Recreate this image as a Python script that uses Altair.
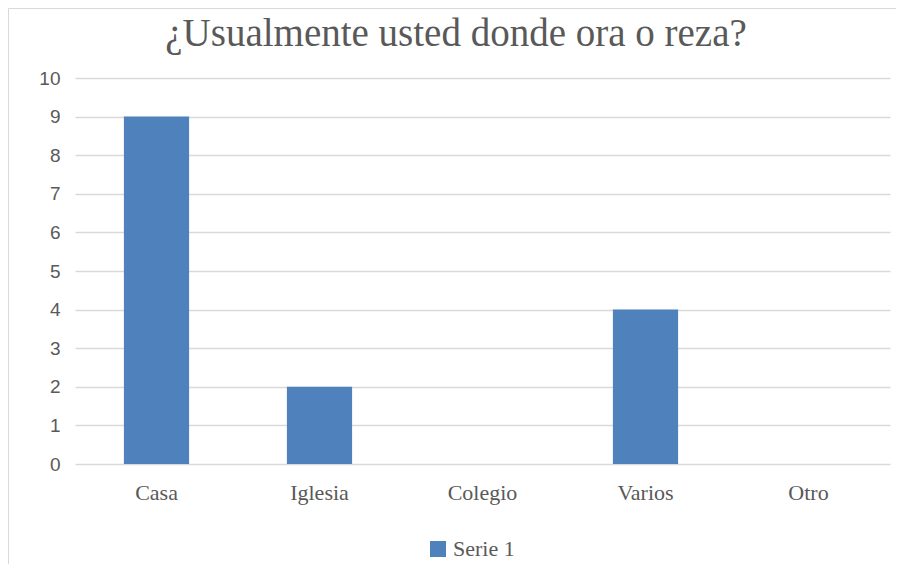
import altair as alt
import pandas as pd

categories = ["Casa", "Iglesia", "Colegio", "Varios", "Otro"]
values = [9, 2, 0, 4, 0]
series_name = "Serie 1"
title_text = "¿Usualmente usted donde ora o reza?"

df = pd.DataFrame({"cat": categories, "val": values, "serie": [series_name] * len(categories)})

W, H = 815, 386

border = alt.Chart(pd.DataFrame({"a": [0]})).mark_rect(
    fillOpacity=0, stroke="#d9d9d9", strokeWidth=1, clip=False
).encode(
    x=alt.value(-66.5), x2=alt.value(840), y=alt.value(-69.5), y2=alt.value(530)
)

title = alt.Chart(pd.DataFrame({"t": [title_text]})).mark_text(
    font="Liberation Serif", fontSize=39, color="#595959", baseline="alphabetic", align="center"
).encode(
    x=alt.value(381), y=alt.value(-32), text="t:N"
)

bars = alt.Chart(df).mark_bar(clip=False).encode(
    x=alt.X("cat:N", sort=categories, title=None,
            scale=alt.Scale(paddingInner=0.6, paddingOuter=0.3),
            axis=alt.Axis(labelAngle=0, ticks=False, domain=False, labelFont="Liberation Serif",
                          labelFontSize=22, labelColor="#595959", labelPadding=18)),
    y=alt.Y("val:Q", title=None,
            scale=alt.Scale(domain=[0, 10], nice=False),
            axis=alt.Axis(values=list(range(0, 11)), ticks=False, domain=False,
                          labelFont="Liberation Sans", labelFontSize=19, labelColor="#595959",
                          labelPadding=15, gridColor="#d9d9d9", gridWidth=1.3)),
    color=alt.Color("serie:N", title=None,
                    scale=alt.Scale(range=["#4F81BD"]),
                    legend=alt.Legend(orient="none", legendX=352, legendY=460,
                                      symbolType="square", symbolSize=256, symbolStrokeWidth=0,
                                      labelFont="Liberation Serif", labelFontSize=22,
                                      labelColor="#595959", labelOffset=4)),
)

chart = alt.layer(border, title, bars).properties(
    width=W, height=H,
    padding={"left": 67, "top": 70, "right": 6, "bottom": 100},
    autosize=alt.AutoSizeParams(type="none"),
).configure_view(stroke=None)

chart.save("out.html", embed_options={"renderer": "svg", "actions": False})
